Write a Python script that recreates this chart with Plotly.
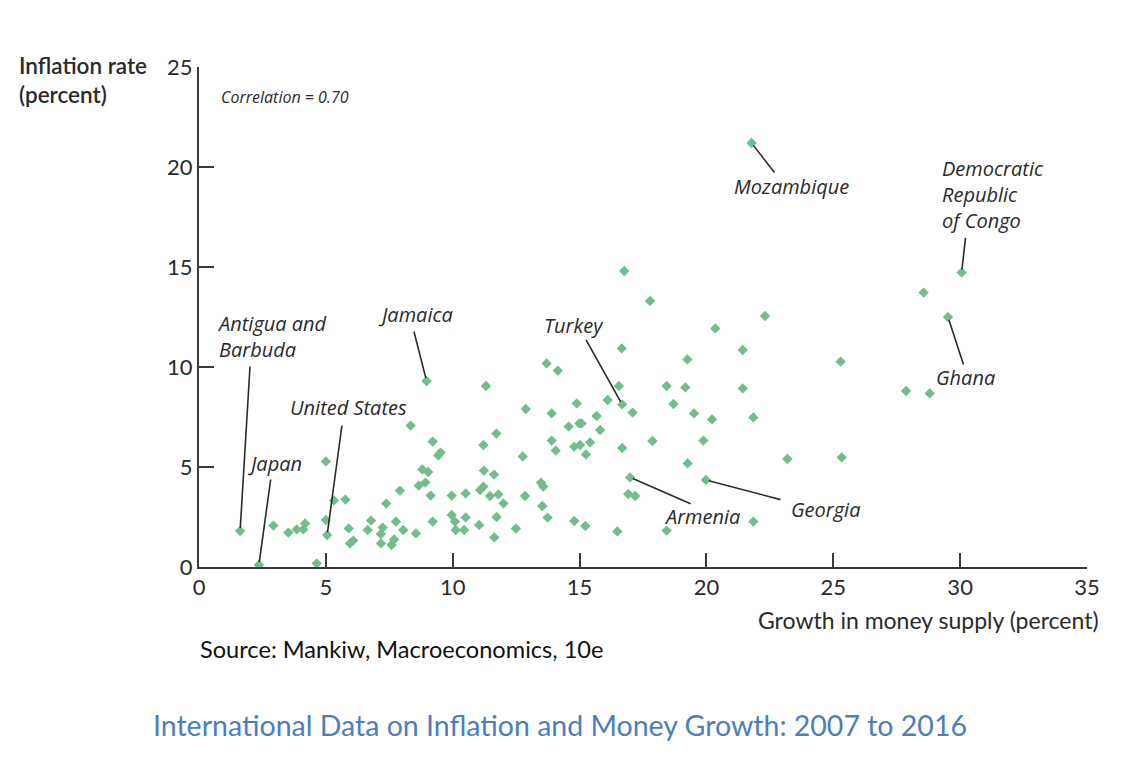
import plotly.graph_objects as go

# ---------------- data ----------------
money_growth = [
    1.62, 2.36, 2.93, 3.52, 3.85, 4.11, 4.18, 4.64, 5.00, 5.00, 5.05, 5.32, 5.77, 5.90, 5.95,
    6.08, 6.65, 6.78, 7.17, 7.17, 7.24, 7.38, 7.59, 7.69, 7.76, 7.92, 8.05, 8.34, 8.55, 8.66,
    8.80, 8.92, 8.97, 9.03, 9.13, 9.21, 9.21, 9.43, 9.52, 9.96, 9.96, 10.09, 10.12, 10.45, 10.51,
    10.51, 11.04, 11.08, 11.21, 11.21, 11.23, 11.31, 11.47, 11.63, 11.64, 11.72, 11.73, 11.80, 12.00, 12.49,
    12.76, 12.85, 12.88, 13.48, 13.57, 13.53, 13.70, 13.74, 13.90, 13.90, 14.06, 14.14, 14.57, 14.79, 14.79,
    14.89, 14.99, 15.08, 15.02, 15.23, 15.25, 15.41, 15.67, 15.81, 16.11, 16.49, 16.55, 16.66, 16.68, 16.68,
    16.76, 16.92, 16.99, 17.09, 17.19, 17.78, 17.87, 18.43, 18.43, 18.70, 19.17, 19.25, 19.26, 19.51, 19.88,
    19.98, 20.22, 20.35, 21.43, 21.43, 21.78, 21.85, 21.85, 22.31, 23.19, 25.29, 25.33, 27.87, 28.56, 28.80,
    29.52, 30.06,
]
inflation = [
    1.80, 0.10, 2.07, 1.72, 1.88, 1.88, 2.18, 0.18, 5.28, 2.35, 1.60, 3.33, 3.37, 1.93, 1.18,
    1.32, 1.85, 2.32, 1.18, 1.65, 1.97, 3.17, 1.10, 1.38, 2.27, 3.82, 1.85, 7.07, 1.68, 4.07,
    4.88, 4.22, 9.30, 4.75, 3.57, 6.27, 2.27, 5.58, 5.72, 3.57, 2.60, 2.27, 1.85, 1.85, 3.68,
    2.48, 2.10, 3.85, 4.02, 6.10, 4.82, 9.05, 3.55, 4.62, 1.48, 6.67, 2.50, 3.63, 3.18, 1.92,
    5.53, 3.55, 7.90, 4.22, 4.02, 3.05, 10.18, 2.47, 7.68, 6.32, 5.82, 9.82, 7.02, 6.02, 2.30,
    8.18, 7.18, 7.18, 6.10, 2.05, 5.63, 6.23, 7.55, 6.85, 8.35, 1.78, 9.05, 10.93, 8.13, 5.95,
    14.80, 3.65, 4.48, 7.72, 3.55, 13.30, 6.30, 9.05, 1.82, 8.15, 8.98, 10.38, 5.18, 7.68, 6.32,
    4.35, 7.38, 11.93, 10.85, 8.93, 21.20, 7.48, 2.27, 12.55, 5.40, 10.27, 5.48, 8.80, 13.72, 8.68,
    12.50, 14.73,
]

label_countries = ["Antigua and<br>Barbuda", "Japan", "United States", "Jamaica", "Turkey",
                   "Armenia", "Georgia", "Mozambique", "Democratic<br>Republic<br>of Congo", "Ghana"]
label_x = [1.62, 2.36, 5.05, 8.97, 16.68, 16.99, 19.98, 21.78, 30.06, 29.52]
label_y = [1.80, 0.10, 1.60, 9.30, 8.13, 4.48, 4.35, 21.20, 14.73, 12.50]

x_ticks = [0, 5, 10, 15, 20, 25, 30, 35]
y_ticks = [0, 5, 10, 15, 20, 25]

# ---------------- styles / layout positions (pixels) ----------------
label_style = {
    "Antigua and<br>Barbuda": dict(ax=10, ay=-166, xs=-25, ys=166, xa="left", ya="bottom", align="left"),
    "Japan": dict(ax=12, ay=-87, xs=16, ys=102, xa="center", ya="middle", align="center"),
    "United States": dict(ax=15, ay=-111, xs=21, ys=128, xa="center", ya="middle", align="center"),
    "Jamaica": dict(ax=-13, ay=-51, xs=-11, ys=67, xa="center", ya="middle", align="center"),
    "Turkey": dict(ax=-37, ay=-66, xs=-48, ys=79, xa="center", ya="middle", align="center"),
    "Armenia": dict(ax=62, ay=27, xs=72, ys=-39, xa="center", ya="middle", align="center"),
    "Georgia": dict(ax=76, ay=20, xs=120, ys=-29, xa="center", ya="middle", align="center"),
    "Mozambique": dict(ax=24, ay=31, xs=40, ys=-43, xa="center", ya="middle", align="center"),
    "Democratic<br>Republic<br>of Congo": dict(ax=4, ay=-36, xs=-22, ys=36, xa="left", ya="bottom", align="left"),
    "Ghana": dict(ax=16, ay=49, xs=18, ys=-60, xa="center", ya="middle", align="center"),
}

LABEL_FONT = dict(family="Open Sans", size=20, color="#2a2a2a")
TICK_FONT = dict(family="Lato", size=22, color="#2a2a2a")
AXIS_COLOR = "#3a3a3a"

# page body has an 8px margin: work in reference pixels and subtract it
OFF = 8
W, H = 1142 - 2 * OFF, 758 - 2 * OFF
PX0, PX1, PY0, PY1 = 199 - OFF, 1087 - OFF, 67 - OFF, 567 - OFF  # plot area in page px
L, T = PX0, PY0
R, B = W - PX1, H - PY1
pw, ph = PX1 - PX0, PY1 - PY0


def paper_x(ref_px):
    return (ref_px - OFF - PX0) / pw


def paper_y(ref_py):
    return (PY1 - (ref_py - OFF)) / ph


fig = go.Figure()
fig.add_trace(go.Scatter(
    x=money_growth, y=inflation, mode="markers",
    marker=dict(symbol="diamond", size=8, color="#72bd8c", line=dict(width=0)),
    hoverinfo="x+y", showlegend=False,
))

annotations = []
for name, px, py in zip(label_countries, label_x, label_y):
    s = label_style[name]
    annotations.append(dict(
        x=px, y=py, xref="x", yref="y", text="", showarrow=True,
        arrowhead=0, arrowwidth=1.6, arrowcolor="#2a2a2a", ax=s["ax"], ay=s["ay"],
        standoff=3,
    ))
    annotations.append(dict(
        x=px, y=py, xref="x", yref="y", text="<i>" + name + "</i>", showarrow=False,
        xshift=s["xs"], yshift=s["ys"], xanchor=s["xa"], yanchor=s["ya"], align=s["align"],
        font=LABEL_FONT,
    ))

annotations += [
    dict(text="<i>Correlation = 0.70</i>", x=paper_x(219), y=paper_y(97), xref="paper", yref="paper",
         xanchor="left", yanchor="middle", showarrow=False,
         font=dict(family="Open Sans", size=16, color="#2a2a2a")),
    dict(text="Inflation rate<br>(percent)", x=paper_x(17), y=paper_y(50), xref="paper", yref="paper",
         showarrow=False, align="left", xanchor="left", yanchor="top",
         font=dict(family="Lato", size=22.5, color="#2a2a2a", weight=600)),
    dict(text="Growth in money supply (percent)", x=paper_x(1101), y=paper_y(604), xref="paper", yref="paper",
         showarrow=False, xanchor="right", yanchor="top",
         font=dict(family="Lato", size=23, color="#2a2a2a")),
    dict(text="Source: Mankiw, Macroeconomics, 10e", x=paper_x(198), y=paper_y(633), xref="paper", yref="paper",
         showarrow=False, xanchor="left", yanchor="top",
         font=dict(family="Lato", size=23.6, color="#111111")),
    dict(text="International Data on Inflation and Money Growth: 2007 to 2016",
         x=paper_x(151), y=paper_y(706), xref="paper", yref="paper", showarrow=False,
         xanchor="left", yanchor="top",
         font=dict(family="Lato", size=28.5, color="#4a7ebf")),
]

fig.update_layout(
    width=W, height=H,
    margin=dict(l=L, r=R, t=T, b=B, pad=0),
    paper_bgcolor="white", plot_bgcolor="white",
    showlegend=False,
    annotations=annotations,
    xaxis=dict(
        range=[0, 35], tickvals=x_ticks, ticktext=[str(v) for v in x_ticks],
        showgrid=False, zeroline=False, showline=True, linecolor=AXIS_COLOR, linewidth=2,
        ticks="inside", ticklen=14, tickwidth=1.6, tickcolor=AXIS_COLOR,
        tickfont=TICK_FONT, fixedrange=True,
    ),
    yaxis=dict(
        range=[0, 25], tickvals=y_ticks, ticktext=[str(v) for v in y_ticks],
        showgrid=False, zeroline=False, showline=True, linecolor=AXIS_COLOR, linewidth=2,
        ticks="inside", ticklen=15, tickwidth=1.6, tickcolor=AXIS_COLOR,
        tickfont=TICK_FONT, fixedrange=True,
    ),
)

fig.write_html("out.html")
